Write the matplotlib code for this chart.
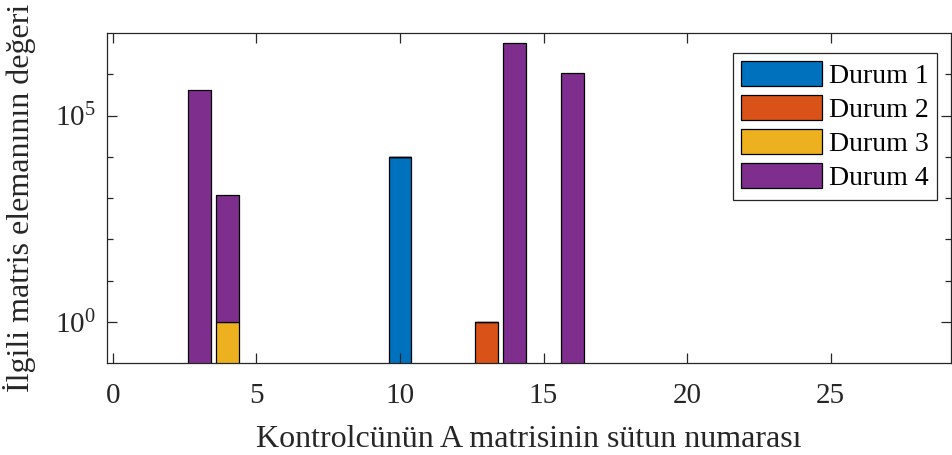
import matplotlib
matplotlib.use('Agg')
import matplotlib.pyplot as plt
import numpy as np
from matplotlib.ticker import FixedLocator, LogFormatterMathtext, NullFormatter

plt.rcParams['font.family'] = ['Liberation Serif', 'DejaVu Serif']
plt.rcParams['mathtext.fontset'] = 'custom'
plt.rcParams['mathtext.rm'] = 'Liberation Serif'
plt.rcParams['mathtext.it'] = 'Liberation Serif:italic'

# column numbers of the controller A matrix
columns = np.arange(1, 29)

# values per column (zeros where no bar)
durum1 = [0, 0, 0, 0, 0, 0, 0, 0, 0, 9.8e3, 0, 0, 0, 0,
          0, 0, 0, 0, 0, 0, 0, 0, 0, 0, 0, 0, 0, 0]
durum2 = [0, 0, 0, 0, 0, 0, 0, 0, 0, 0, 0, 0, 1.0, 0,
          0, 0, 0, 0, 0, 0, 0, 0, 0, 0, 0, 0, 0, 0]
durum3 = [0, 0, 0, 1.0, 0, 0, 0, 0, 0, 0, 0, 0, 0, 0,
          0, 0, 0, 0, 0, 0, 0, 0, 0, 0, 0, 0, 0, 0]
durum4 = [0, 0, 4.1e5, 1.17e3, 0, 0, 0, 0, 0, 0, 0, 0, 0, 5.8e6,
          0, 1.07e6, 0, 0, 0, 0, 0, 0, 0, 0, 0, 0, 0, 0]

labels = ["Durum 1", "Durum 2", "Durum 3", "Durum 4"]
colors = ["#0072BD", "#D95319", "#EDB120", "#7E2F8E"]

fig = plt.figure(figsize=(9.53, 4.55), dpi=100)
ax = fig.add_axes([0.1125, 0.202, 0.8855, 0.7255])
ax.set_yscale('log')

bottom = np.zeros(len(columns))
for vals, lab, col in zip([durum1, durum2, durum3, durum4], labels, colors):
    vals = np.asarray(vals, dtype=float)
    ax.bar(columns, vals, width=0.8, bottom=bottom, color=col,
           edgecolor='black', linewidth=0.9, label=lab)
    bottom = bottom + vals

ax.set_xlim(-0.2, 29.2)
ax.set_ylim(0.1, 1e7)
ax.set_xticks([0, 5, 10, 15, 20, 25])
ax.yaxis.set_major_locator(FixedLocator([1e0, 1e5]))
ax.yaxis.set_major_formatter(LogFormatterMathtext())
ax.yaxis.set_minor_locator(FixedLocator([1e1, 1e2, 1e3, 1e4, 1e6]))
ax.yaxis.set_minor_formatter(NullFormatter())

ax.tick_params(axis='both', which='both', direction='in', top=True, right=True,
               colors='#262626', labelcolor='#262626', labelsize=21)
ax.tick_params(axis='both', which='major', length=7, width=0.9)
ax.tick_params(axis='x', which='major', pad=14)
ax.tick_params(axis='y', which='major', pad=8)
ax.tick_params(axis='y', which='minor', length=4, width=0.9)
for s in ax.spines.values():
    s.set_color('#262626')
    s.set_linewidth(0.9)

ax.set_xlabel("Kontrolcünün A matrisinin sütun numarası", fontsize=23,
              color='#262626', labelpad=12)
ax.set_ylabel("İlgili matris elemanının değeri", fontsize=23,
              color='#262626', labelpad=14)

leg = ax.legend(loc='upper right', bbox_to_anchor=(0.983, 0.94), fontsize=20,
                handlelength=2.9, handleheight=1.0, handletextpad=0.25,
                labelspacing=0.22, borderpad=0.3, fancybox=False, framealpha=1,
                edgecolor='#262626', borderaxespad=0)
leg.get_frame().set_linewidth(0.9)

fig.savefig('out.png', dpi=100)
plt.close(fig)
